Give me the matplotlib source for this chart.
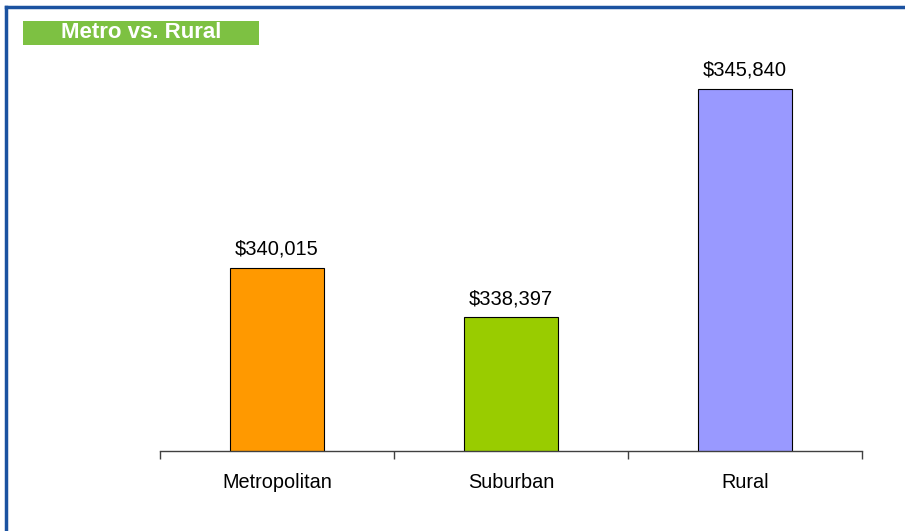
import matplotlib.pyplot as plt
from matplotlib.patches import Rectangle
from matplotlib.lines import Line2D

# Data
categories = ['Metropolitan', 'Suburban', 'Rural']
values = [340015, 338397, 345840]
colors = ['#ff9900', '#99cc00', '#9999ff']

plt.rcParams['font.family'] = ['Liberation Sans', 'DejaVu Sans']

fig = plt.figure(figsize=(9.05, 5.31), dpi=100)
W, H = 905, 531

# Blue frame (top and left only)
fig.add_artist(Line2D([6 / W, 1], [1 - 7 / H, 1 - 7 / H], transform=fig.transFigure,
                      color='#1b52a0', lw=2.5))
fig.add_artist(Line2D([6 / W, 6 / W], [0, 1 - 7 / H], transform=fig.transFigure,
                      color='#1b52a0', lw=2.5))

# Green title box
fig.add_artist(Rectangle((23 / W, 1 - 45 / H), 236 / W, 24 / H, transform=fig.transFigure,
                         facecolor='#7dc142', edgecolor='none'))
fig.text(141 / W, 1 - 32.5 / H, 'Metro vs. Rural', color='white', fontsize=16,
         fontweight='bold', ha='center', va='center')

# Plot area
ax = fig.add_axes([160 / W, 1 - 451 / H, 702 / W, 428 / H])
x = range(len(categories))
bars = ax.bar(x, values, width=0.4, color=colors, edgecolor='black', linewidth=0.8)
ax.set_xlim(-0.5, 2.5)
ax.set_ylim(334030, 348000)

for b, v in zip(bars, values):
    ax.annotate(f'${v:,}', (b.get_x() + b.get_width() / 2, v), xytext=(0, 9.5),
                textcoords='offset points', ha='center', va='baseline', fontsize=14.5)

for s in ['top', 'right', 'left']:
    ax.spines[s].set_visible(False)
ax.spines['bottom'].set_color('#404040')
ax.spines['bottom'].set_linewidth(1)
ax.set_yticks([])

ax.set_xticks(list(x))
ax.set_xticklabels(categories, fontsize=14.3)
ax.tick_params(axis='x', which='major', length=0, pad=16)
ax.set_xticks([-0.5, 0.5, 1.5, 2.5], minor=True)
ax.tick_params(axis='x', which='minor', length=6, width=1, color='#404040', direction='out')

plt.savefig('out.png', dpi=100)
